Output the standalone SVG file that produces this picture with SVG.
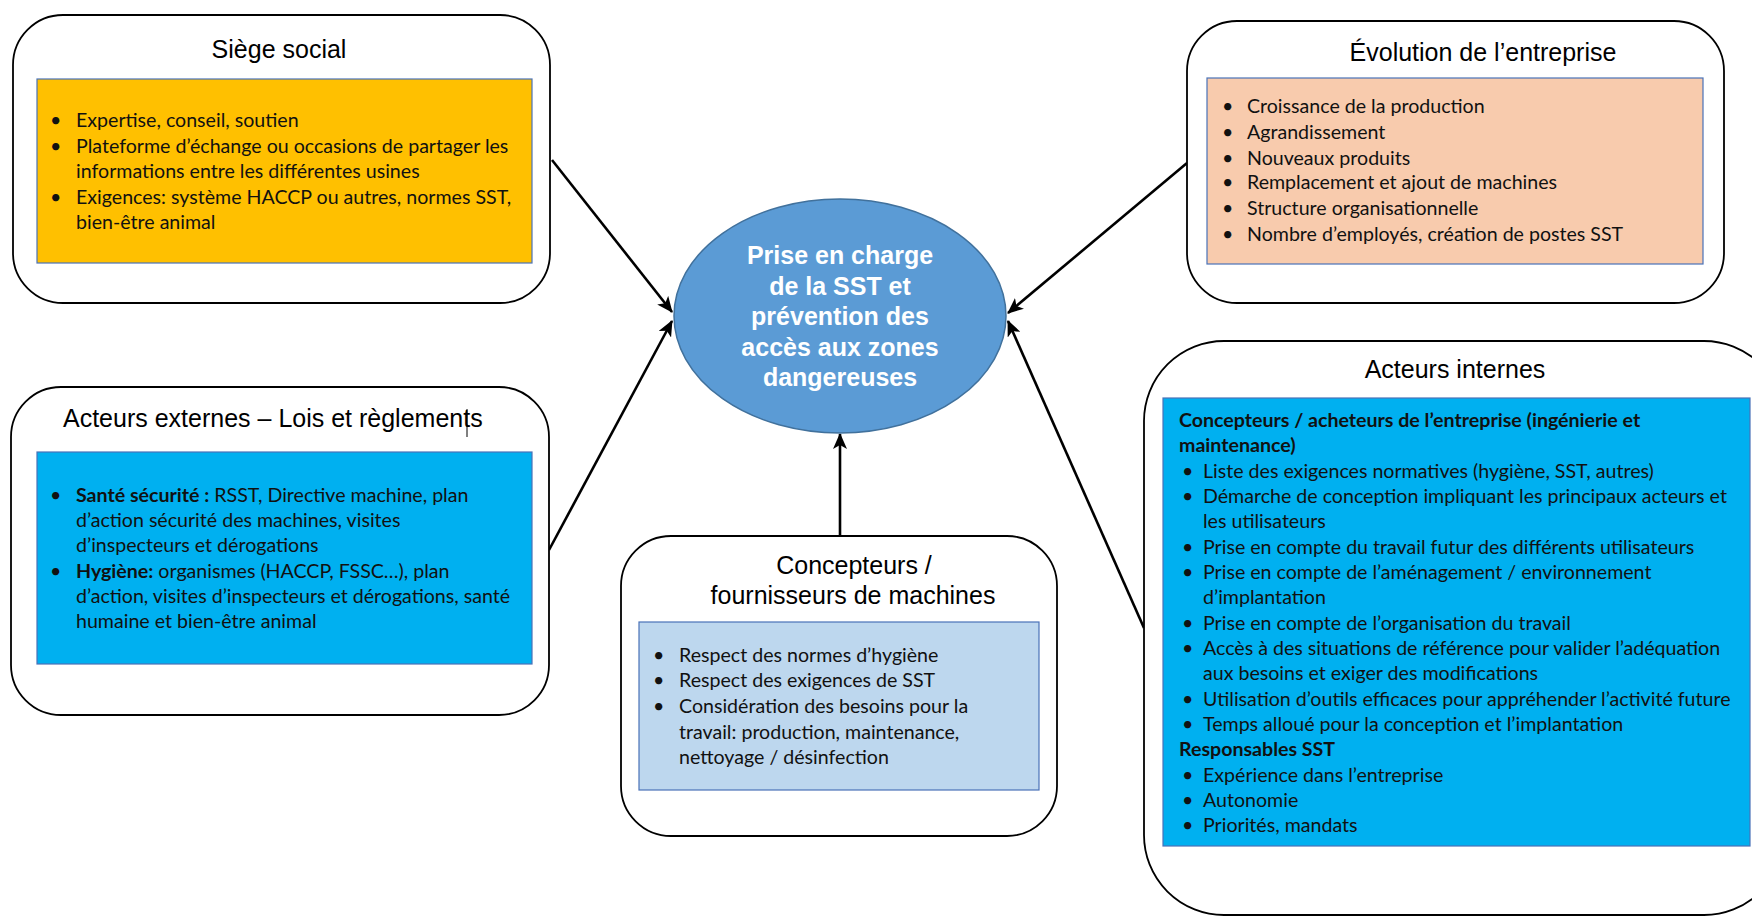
<svg xmlns="http://www.w3.org/2000/svg" width="1752" height="916" viewBox="0 0 1752 916">
<style>
.outer{fill:#fff;stroke:#000;stroke-width:1.8}
.inner{stroke:#4a72b8;stroke-width:1.2}
.title{font-family:"Liberation Sans",Arial,sans-serif;font-size:25px;fill:#000}
.tc{text-anchor:middle}
.body{font-family:Lato,"Open Sans",sans-serif;font-size:19.6px;fill:#111}
.b{font-weight:bold}
.ctext{font-family:"Liberation Sans",Arial,sans-serif;font-size:25px;font-weight:bold;fill:#fff;text-anchor:middle}
.conn{stroke:#000;stroke-width:2.6;fill:none}
</style>
<defs>
<marker id="arr" markerUnits="userSpaceOnUse" markerWidth="16" markerHeight="14" refX="15" refY="7" orient="auto">
<path d="M0,0 L16,7 L0,14 L4,7 Z" fill="#000"/>
</marker>
</defs>
<g id="connectors">
<line class="conn" x1="552" y1="160" x2="672" y2="312" marker-end="url(#arr)"/>
<line class="conn" x1="549" y1="550" x2="672" y2="321" marker-end="url(#arr)"/>
<line class="conn" x1="1187" y1="163" x2="1008" y2="313" marker-end="url(#arr)"/>
<line class="conn" x1="1144" y1="628" x2="1008" y2="321" marker-end="url(#arr)"/>
<line class="conn" x1="840" y1="536" x2="840" y2="434" marker-end="url(#arr)"/>
</g>
<g id="center">
<ellipse cx="840" cy="316" rx="166" ry="117" fill="#5b9bd5" stroke="#41719c" stroke-width="1.5"/>
<text class="ctext" x="840" y="264">Prise en charge</text>
<text class="ctext" x="840" y="295">de la SST et</text>
<text class="ctext" x="840" y="325">prévention des</text>
<text class="ctext" x="840" y="356">accès aux zones</text>
<text class="ctext" x="840" y="386">dangereuses</text>
</g>
<g id="siege">
<rect class="outer" x="13" y="15" width="537" height="288" rx="50"/>
<rect class="inner" x="37" y="79" width="495" height="184" fill="#ffc000"/>
<text class="title tc" x="279" y="58">Siège social</text>
<g class="body">
<text x="50" y="127">•</text><text x="76" y="127">Expertise, conseil, soutien</text>
<text x="50" y="153">•</text><text x="76" y="153">Plateforme d’échange ou occasions de partager les</text>
<text x="76" y="178">informations entre les différentes usines</text>
<text x="50" y="204">•</text><text x="76" y="204">Exigences: système HACCP ou autres, normes SST,</text>
<text x="76" y="229">bien-être animal</text>
</g>
</g>
<g id="externes">
<rect class="outer" x="11" y="387" width="538" height="328" rx="50"/>
<rect class="inner" x="37" y="452" width="495" height="212" fill="#00b0f0"/>
<text class="title" x="63" y="427">Acteurs externes – Lois et règlements</text>
<line x1="467" y1="409" x2="467" y2="437" stroke="#000" stroke-width="1"/>
<g class="body">
<text x="50" y="502">•</text><text x="76" y="502"><tspan class="b">Santé sécurité :</tspan> RSST, Directive machine, plan</text>
<text x="76" y="527">d’action sécurité des machines, visites</text>
<text x="76" y="552">d’inspecteurs et dérogations</text>
<text x="50" y="578">•</text><text x="76" y="578"><tspan class="b">Hygiène:</tspan> organismes (HACCP, FSSC…), plan</text>
<text x="76" y="603">d’action, visites d’inspecteurs et dérogations, santé</text>
<text x="76" y="628">humaine et bien-être animal</text>
</g>
</g>
<g id="evolution">
<rect class="outer" x="1187" y="21" width="537" height="282" rx="50"/>
<rect class="inner" x="1207" y="78" width="496" height="186" fill="#f8cbad"/>
<text class="title tc" x="1483" y="61">Évolution de l’entreprise</text>
<g class="body">
<text x="1222" y="113">•</text><text x="1247" y="113">Croissance de la production</text>
<text x="1222" y="139">•</text><text x="1247" y="139">Agrandissement</text>
<text x="1222" y="165">•</text><text x="1247" y="165">Nouveaux produits</text>
<text x="1222" y="189">•</text><text x="1247" y="189">Remplacement et ajout de machines</text>
<text x="1222" y="215">•</text><text x="1247" y="215">Structure organisationnelle</text>
<text x="1222" y="241">•</text><text x="1247" y="241">Nombre d’employés, création de postes SST</text>
</g>
</g>
<g id="fournisseurs">
<rect class="outer" x="621" y="536" width="436" height="300" rx="50"/>
<rect class="inner" x="639" y="622" width="400" height="168" fill="#bdd7ee"/>
<text class="title tc" x="854" y="574">Concepteurs /</text>
<text class="title tc" x="853" y="604">fournisseurs de machines</text>
<g class="body">
<text x="653" y="662">•</text><text x="679" y="662">Respect des normes d’hygiène</text>
<text x="653" y="687">•</text><text x="679" y="687">Respect des exigences de SST</text>
<text x="653" y="713">•</text><text x="679" y="713">Considération des besoins pour la</text>
<text x="679" y="739">travail: production, maintenance,</text>
<text x="679" y="764">nettoyage / désinfection</text>
</g>
</g>
<g id="internes">
<rect class="outer" x="1144" y="341" width="640" height="574" rx="80"/>
<rect class="inner" x="1163" y="398" width="587" height="448" fill="#00b0f0"/>
<text class="title tc" x="1455" y="378">Acteurs internes</text>
<g class="body">
<text class="b" x="1179" y="427">Concepteurs / acheteurs de l’entreprise (ingénierie et</text>
<text class="b" x="1179" y="452">maintenance)</text>
<text x="1182" y="478">•</text><text x="1203" y="478">Liste des exigences normatives (hygiène, SST, autres)</text>
<text x="1182" y="503">•</text><text x="1203" y="503">Démarche de conception impliquant les principaux acteurs et</text>
<text x="1203" y="528">les utilisateurs</text>
<text x="1182" y="554">•</text><text x="1203" y="554">Prise en compte du travail futur des différents utilisateurs</text>
<text x="1182" y="579">•</text><text x="1203" y="579">Prise en compte de l’aménagement / environnement</text>
<text x="1203" y="604">d’implantation</text>
<text x="1182" y="630">•</text><text x="1203" y="630">Prise en compte de l’organisation du travail</text>
<text x="1182" y="655">•</text><text x="1203" y="655">Accès à des situations de référence pour valider l’adéquation</text>
<text x="1203" y="680">aux besoins et exiger des modifications</text>
<text x="1182" y="706">•</text><text x="1203" y="706">Utilisation d’outils efficaces pour appréhender l’activité future</text>
<text x="1182" y="731">•</text><text x="1203" y="731">Temps alloué pour la conception et l’implantation</text>
<text class="b" x="1179" y="756">Responsables SST</text>
<text x="1182" y="782">•</text><text x="1203" y="782">Expérience dans l’entreprise</text>
<text x="1182" y="807">•</text><text x="1203" y="807">Autonomie</text>
<text x="1182" y="832">•</text><text x="1203" y="832">Priorités, mandats</text>
</g>
</g>
</svg>
